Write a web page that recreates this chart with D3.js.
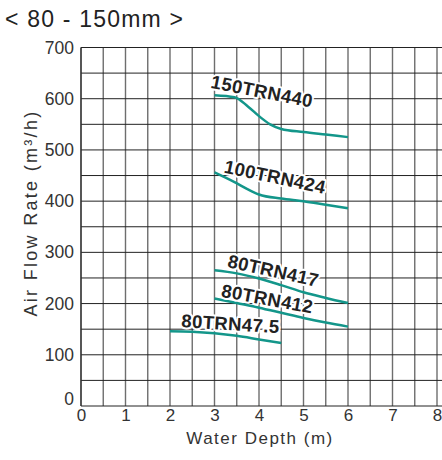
<!DOCTYPE html>
<html><head><meta charset="utf-8">
<script src="https://cdn.jsdelivr.net/npm/d3@7"></script>
<style>body{margin:0;background:#fff}svg{display:block}</style>
</head><body>
<script>
const title = "< 80 - 150mm >";
const xLabel = "Water Depth (m)";
const yLabel = "Air Flow Rate (m³/h)";
const xTicks = [0,1,2,3,4,5,6,7,8];
const yTicks = [0,100,200,300,400,500,600,700];
const seriesNames = ["150TRN440","100TRN424","80TRN417","80TRN412","80TRN47.5"];
const s150TRN440 = [[3,607],[3.45,603],[3.75,585],[4,566],[4.25,550],[4.5,541],[5,535],[5.5,530],[6,525]];
const s100TRN424 = [[3,456],[3.45,437],[3.75,423],[4,413],[4.5,405],[5,400],[5.5,393],[6,386]];
const s80TRN417 = [[3,265],[3.5,259],[4,249],[4.5,236],[5,222],[5.5,211],[6,201]];
const s80TRN412 = [[3,210],[3.5,201],[4,192],[4.5,182],[5,172],[5.5,163],[6,155]];
const s80TRN47_5 = [[2,146],[2.5,145],[3,142],[3.5,137],[4,130],[4.5,123]];
const seriesData = [s150TRN440,s100TRN424,s80TRN417,s80TRN412,s80TRN47_5];
// label baseline centre (data coords) and angle
const labelPos = [[4.04,602],[4.33,435],[4.29,252],[4.16,197],[3.35,148]];
const labelAngle = [11,12,12.5,10.5,3.6];

const W=442,H=460;
const svg=d3.select("body").append("svg").attr("width",W).attr("height",H);
const x=d3.scaleLinear().domain([0,8]).range([81,437]);
const y=d3.scaleLinear().domain([0,700]).range([406,47.5]);
const font="'Liberation Sans', Arial, Helvetica, sans-serif";

// grid
const vg=d3.range(0,8.01,0.5), hg=d3.range(0,701,50);
svg.append("g").selectAll("line").data(vg).join("line")
 .attr("x1",d=>x(d)).attr("x2",d=>x(d)).attr("y1",y(0)).attr("y2",y(700))
 .attr("stroke","#6e6e6e").attr("stroke-width",1.4);
svg.append("g").selectAll("line").data(hg).join("line")
 .attr("x1",x(0)).attr("x2",x(8)+6).attr("y1",d=>y(d)).attr("y2",d=>y(d))
 .attr("stroke","#222").attr("stroke-width",1);
svg.append("line").attr("x1",x(0)).attr("x2",x(0)).attr("y1",y(0)).attr("y2",y(700)).attr("stroke","#333").attr("stroke-width",1.3);

// axes
const ya=d3.axisLeft(y).tickValues(yTicks).tickSize(0).tickPadding(7).tickFormat(d3.format("d"));
const gy=svg.append("g").attr("transform","translate("+x(0)+",0)").call(ya);
gy.select(".domain").remove();
gy.selectAll("text").attr("font-family",font).attr("font-size",17.5).attr("fill","#333");
gy.selectAll("text").filter(d=>d===0).attr("dy","-0.1em");
const xa=d3.axisBottom(x).tickValues(xTicks).tickSize(0).tickPadding(3).tickFormat(d3.format("d"));
const gx=svg.append("g").attr("transform","translate(0,"+y(0)+")").call(xa);
gx.select(".domain").remove();
gx.selectAll("text").attr("font-family",font).attr("font-size",17).attr("fill","#333");

// lines
const line=d3.line().x(d=>x(d[0])).y(d=>y(d[1])).curve(d3.curveMonotoneX);
svg.append("g").selectAll("path").data(seriesData).join("path")
 .attr("d",line).attr("fill","none").attr("stroke","#13968a").attr("stroke-width",2.5);

// labels
svg.append("g").selectAll("text").data(seriesNames).join("text")
 .attr("transform",(d,i)=>"translate("+x(labelPos[i][0])+","+y(labelPos[i][1])+") rotate("+labelAngle[i]+")")
 .attr("text-anchor","middle").attr("font-family",font).attr("font-weight","bold")
 .attr("font-size",18.5).attr("letter-spacing",0.4).attr("fill","#222").attr("stroke","#fff").attr("stroke-width",4)
 .attr("paint-order","stroke").attr("stroke-linejoin","round").text(d=>d);

// titles
svg.append("text").attr("x",5).attr("y",27).attr("font-family",font).attr("font-size",23).attr("letter-spacing",1.2).attr("fill","#222").text(title);
svg.append("text").attr("x",260).attr("y",444).attr("text-anchor","middle").attr("font-family",font).attr("font-size",17).attr("fill","#333").attr("letter-spacing",1.5).text(xLabel);
svg.append("text").attr("transform","translate(37,213) rotate(-90)").attr("text-anchor","middle").attr("font-family",font).attr("font-size",18).attr("fill","#333").attr("letter-spacing",2.3).text(yLabel);
</script>
</body></html>
